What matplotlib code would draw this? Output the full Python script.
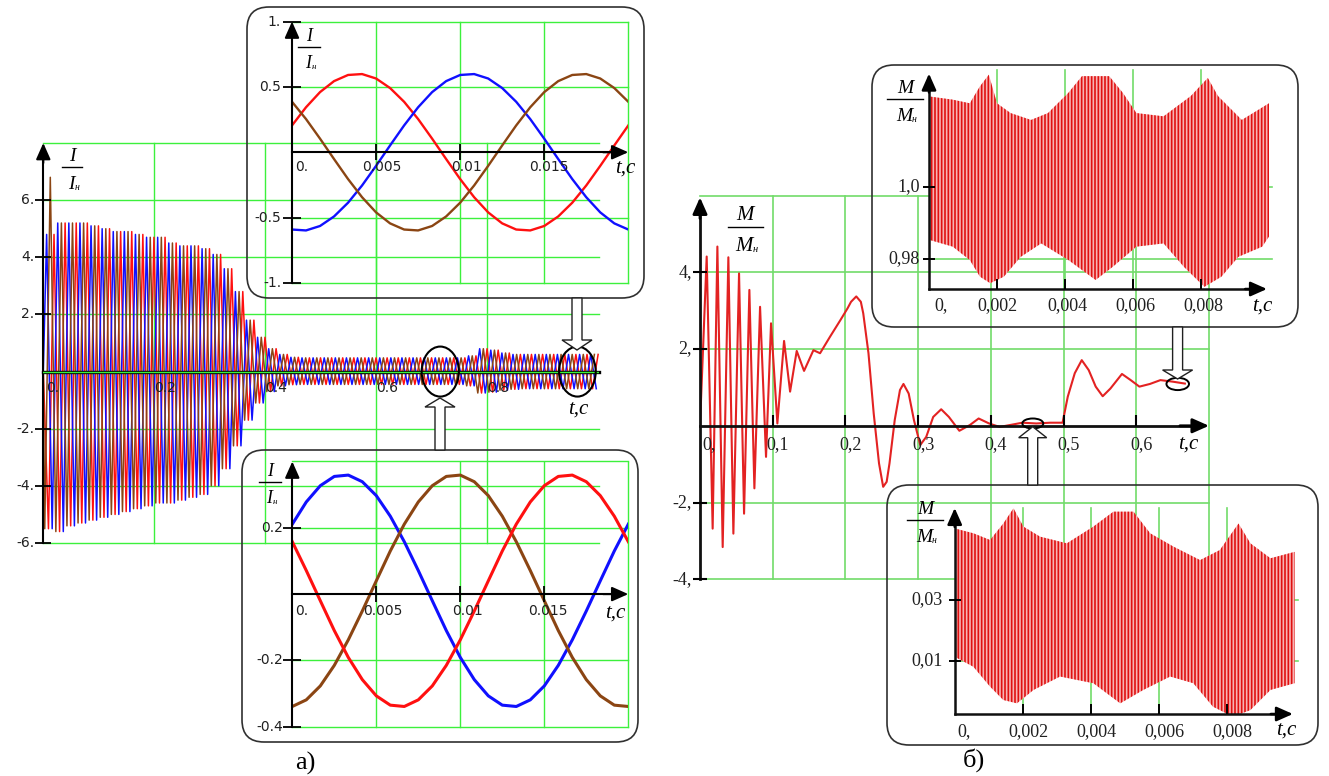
import numpy as np
import matplotlib
matplotlib.use("Agg")
import matplotlib.pyplot as plt
from matplotlib.patches import FancyBboxPatch, FancyArrow, Ellipse
from matplotlib.lines import Line2D

plt.rcParams["font.family"] = ["DejaVu Sans"]
plt.rcParams["hatch.linewidth"] = 1.2
plt.rcParams["hatch.color"] = "#e01010"

# ======================= DATA =======================
# (а) main plot: phase currents I/Iн (50 Hz); peak (+) and trough (-) of each 0.02 s cycle
cur_period = 0.02
cur_t_end = 1.0
cur_first_peak_t = {"red": 0.0193, "blue": 0.0060, "brown": 0.0126}
cur_first_peak_val = {"red": None, "blue": None, "brown": 6.8}
cur_upper = [4.8, 5.2, 5.2, 5.2, 5.1, 5.0, 4.9, 4.9, 4.8, 4.7,
             4.7, 4.5, 4.4, 4.4, 4.3, 4.1, 3.6, 2.8, 1.8, 1.2,
             0.8, 0.6, 0.5, 0.48, 0.48, 0.48, 0.48, 0.48, 0.48, 0.48,
             0.48, 0.48, 0.48, 0.48, 0.48, 0.48, 0.48, 0.48, 0.55, 0.8,
             0.75, 0.65, 0.6, 0.6, 0.6, 0.6, 0.6, 0.6, 0.6, 0.6]
cur_lower = [5.5, 5.6, 5.4, 5.3, 5.2, 5.1, 5.0, 4.9, 4.8, 4.7,
             4.6, 4.6, 4.5, 4.4, 4.3, 4.0, 3.4, 2.6, 1.7, 1.1,
             0.7, 0.5, 0.46, 0.45, 0.45, 0.45, 0.45, 0.45, 0.45, 0.45,
             0.45, 0.45, 0.45, 0.45, 0.45, 0.45, 0.45, 0.45, 0.5, 0.75,
             0.72, 0.65, 0.62, 0.6, 0.6, 0.6, 0.6, 0.6, 0.6, 0.6]
cur_xticks = [0, 0.2, 0.4, 0.6, 0.8]
cur_xlabels = ["0.", "0.2", "0.4", "0.6", "0.8"]
cur_yticks = [-6, -4, -2, 2, 4, 6]
cur_ylabels = ["-6.", "-4.", "-2.", "2.", "4.", "6."]

# (а) insets: one period 0..0.02 s, sampled every 1/24 period
ins_t = [0.0, 0.000833, 0.001667, 0.0025, 0.003333, 0.004167, 0.005, 0.005833,
         0.006667, 0.0075, 0.008333, 0.009167, 0.01, 0.010833, 0.011667, 0.0125,
         0.013333, 0.014167, 0.015, 0.015833, 0.016667, 0.0175, 0.018333, 0.019167, 0.02]
top_red = [0.205, 0.344, 0.460, 0.544, 0.591, 0.598, 0.564, 0.491, 0.386, 0.254,
           0.104, -0.052, -0.205, -0.344, -0.460, -0.544, -0.591, -0.598, -0.564,
           -0.491, -0.386, -0.254, -0.104, 0.052, 0.205]
top_blue = [-0.591, -0.598, -0.564, -0.491, -0.386, -0.254, -0.104, 0.052, 0.205,
            0.344, 0.460, 0.544, 0.591, 0.598, 0.564, 0.491, 0.386, 0.254, 0.104,
            -0.052, -0.205, -0.344, -0.460, -0.544, -0.591]
top_brown = [0.386, 0.254, 0.104, -0.052, -0.205, -0.344, -0.460, -0.544, -0.591,
             -0.598, -0.564, -0.491, -0.386, -0.254, -0.104, 0.052, 0.205, 0.344,
             0.460, 0.544, 0.591, 0.598, 0.564, 0.491, 0.386]
bot_blue = [0.211, 0.278, 0.327, 0.355, 0.359, 0.339, 0.297, 0.235, 0.158, 0.071,
            -0.020, -0.110, -0.191, -0.258, -0.307, -0.335, -0.339, -0.319, -0.277,
            -0.215, -0.138, -0.051, 0.040, 0.130, 0.211]
bot_brown = [-0.339, -0.319, -0.277, -0.215, -0.138, -0.051, 0.040, 0.130, 0.211,
             0.278, 0.327, 0.355, 0.359, 0.339, 0.297, 0.235, 0.158, 0.071, -0.020,
             -0.110, -0.191, -0.258, -0.307, -0.335, -0.339]
bot_red = [0.158, 0.071, -0.020, -0.110, -0.191, -0.258, -0.307, -0.335, -0.339,
           -0.319, -0.277, -0.215, -0.138, -0.051, 0.040, 0.130, 0.211, 0.278, 0.327,
           0.355, 0.359, 0.339, 0.297, 0.235, 0.158]
ins_xticks = [0, 0.005, 0.01, 0.015]
ins_xlabels = ["0.", "0.005", "0.01", "0.015"]
top_yticks = [-1, -0.5, 0.5, 1]
top_ylabels = ["-1.", "-0.5", "0.5", "1."]
bot_yticks = [-0.4, -0.2, 0.2]
bot_ylabels = ["-0.4", "-0.2", "0.2"]

# (б) main plot: torque M/Mн
trq_t = [0.0, 0.0092, 0.0174, 0.0239, 0.0312, 0.0390, 0.0459, 0.0537, 0.0606, 0.0679,
         0.0748, 0.0826, 0.0908, 0.0977, 0.1064, 0.1156, 0.1239, 0.1330, 0.1431, 0.1560,
         0.1651, 0.1788, 0.1933, 0.2029, 0.2077, 0.2149, 0.2212, 0.2245, 0.2317, 0.2389,
         0.2462, 0.2519, 0.2567, 0.2606, 0.2678, 0.2750, 0.2798, 0.2870, 0.2942, 0.3029,
         0.3111, 0.3207, 0.3317, 0.3423, 0.3567, 0.3712, 0.3832, 0.3976, 0.4120, 0.4264,
         0.4433, 0.4625, 0.4817, 0.4986, 0.5058, 0.5154, 0.5250, 0.5346, 0.5442, 0.5538,
         0.5644, 0.5803, 0.5923, 0.6043, 0.6188, 0.6332, 0.6500, 0.6668]
trq_m = [0.0, 4.41, -2.68, 4.67, -3.16, 4.39, -2.81, 3.97, -2.29, 3.54,
         -1.63, 3.10, -0.81, 2.67, 0.06, 2.21, 0.89, 1.95, 1.43, 1.97,
         1.89, 2.32, 2.76, 3.06, 3.23, 3.37, 3.23, 2.93, 1.89, 0.32,
         -0.98, -1.59, -1.46, -0.98, 0.15, 0.93, 1.09, 0.84, 0.15, -0.50,
         -0.29, 0.23, 0.43, 0.23, -0.13, 0.02, 0.19, 0.06, -0.03, 0.02,
         0.08, 0.06, 0.08, 0.08, 0.76, 1.37, 1.71, 1.45, 1.02, 0.77,
         0.97, 1.35, 1.19, 1.02, 1.09, 1.19, 1.15, 1.10]
trq_xticks = [0, 0.1, 0.2, 0.3, 0.4, 0.5, 0.6]
trq_xlabels = ["0,", "0,1", "0,2", "0,3", "0,4", "0,5", "0,6"]
trq_yticks = [-4, -2, 2, 4]
trq_ylabels = ["-4,", "-2,", "2,", "4,"]

# (б) insets: torque ripple band (upper / lower envelope)
rip_xticks = [0, 0.002, 0.004, 0.006, 0.008]
rip_xlabels = ["0,", "0,002", "0,004", "0,006", "0,008"]
ripA_up_t = [0.0, 0.0007, 0.0012, 0.0015, 0.00176, 0.0020, 0.0024, 0.0030, 0.0035, 0.0041,
             0.0045, 0.0053, 0.0057, 0.0061, 0.0069, 0.0077, 0.0082, 0.0085, 0.0092, 0.0100]
ripA_up = [1.0249, 1.0240, 1.0230, 1.0277, 1.0309, 1.0230, 1.0203, 1.0184, 1.0203, 1.0259,
           1.0305, 1.0305, 1.0259, 1.0203, 1.0194, 1.0250, 1.0300, 1.0250, 1.0184, 1.0230]
ripA_lo_t = [0.0, 0.0007, 0.0012, 0.0015, 0.0018, 0.0022, 0.0027, 0.0033, 0.0041, 0.0049,
             0.0054, 0.0061, 0.0069, 0.0075, 0.0081, 0.0086, 0.0091, 0.0098, 0.0100]
ripA_lo = [0.9853, 0.9834, 0.9797, 0.9751, 0.9733, 0.9751, 0.9806, 0.9843, 0.9797, 0.9742,
           0.9778, 0.9834, 0.9843, 0.9778, 0.9723, 0.9751, 0.9806, 0.9834, 0.9862]
ripA_yticks = [0.98, 1.0]
ripA_ylabels = ["0,98", "1,0"]
ripB_up_t = [0.0, 0.00055, 0.00104, 0.00143, 0.00173, 0.00202, 0.00251, 0.0033, 0.00408,
             0.00467, 0.00526, 0.00575, 0.00644, 0.00722, 0.0078, 0.00835, 0.0087, 0.00929, 0.0100]
ripB_up = [0.0535, 0.0519, 0.0497, 0.0551, 0.0601, 0.0541, 0.0508, 0.0486, 0.0541,
           0.0590, 0.0590, 0.0519, 0.0475, 0.0431, 0.0464, 0.0551, 0.0486, 0.0437, 0.0458]
ripB_lo_t = [0.0, 0.00055, 0.00104, 0.00143, 0.00183, 0.00232, 0.0031, 0.00408, 0.00487,
             0.00555, 0.00634, 0.00702, 0.0076, 0.00819, 0.0087, 0.00929, 0.0100]
ripB_lo = [0.0114, 0.0081, 0.0016, -0.0028, -0.0039, 0.0005, 0.0049, 0.0027, -0.0039,
           0.0005, 0.0049, 0.0027, -0.0050, -0.0083, -0.0061, 0.0005, 0.0027]
ripB_yticks = [0.01, 0.03]
ripB_ylabels = ["0,01", "0,03"]

# ======================= STYLE / LAYOUT =======================
W, H = 1329, 776
RED, BLUE, BROWN = "#ff1010", "#1010ff", "#8b4513"
G1 = "#3cf03c"      # bright grid (а)
G2 = "#72dc6a"      # grid (б)
TRQ = "#e32222"
TXT = "#202020"
SERIF = "Liberation Serif"
SANS = "DejaVu Sans"

fig = plt.figure(figsize=(W / 100, H / 100), dpi=100)
fig.patch.set_facecolor("white")


def fr(x0, y0, x1, y1):
    return [x0 / W, 1 - y1 / H, (x1 - x0) / W, (y1 - y0) / H]


def base_axes(px, xlim, ylim):
    ax = fig.add_axes(fr(*px))
    ax.set_xlim(*xlim)
    ax.set_ylim(*ylim)
    ax.set_axis_off()
    return ax


def grid(ax, xs, ys, color, lw=1.0):
    for x in xs:
        ax.axvline(x, color=color, lw=lw, zorder=0.5, clip_on=False)
    for y in ys:
        ax.axhline(y, color=color, lw=lw, zorder=0.5, clip_on=False)


def arrow_head(ax, tip, frm, lw=1.5, ms=22):
    ax.annotate("", xy=tip, xytext=frm,
                arrowprops=dict(arrowstyle="-|>,head_length=0.45,head_width=0.2",
                                color="black", lw=lw, shrinkA=0, shrinkB=0,
                                mutation_scale=ms),
                annotation_clip=False, zorder=5)


def xlabels(ax, ticks, labels, y, dxs, dy, has, size, family, style="normal"):
    for t, s, dx, ha in zip(ticks, labels, dxs, has):
        ax.annotate(s, xy=(t, y), xytext=(dx * 0.72, -dy * 0.72), textcoords="offset points",
                    ha=ha, va="top", fontsize=size, family=family, color=TXT,
                    annotation_clip=False, zorder=6)


def ylabels(ax, ticks, labels, x, dx, size, family):
    for t, s in zip(ticks, labels):
        ax.annotate(s, xy=(x, t), xytext=(-dx * 0.72, 0), textcoords="offset points",
                    ha="right", va="center", fontsize=size, family=family, color=TXT,
                    annotation_clip=False, zorder=6)


def frac(cx, cy, letter, size, bar_w, sub_dx):
    em = size / 0.72
    fig.text(cx / W, 1 - (cy - 0.33 * em) / H, letter, ha="center", va="baseline",
             fontsize=size, family=SERIF, style="italic", color="black")
    fig.add_artist(Line2D([(cx - bar_w / 2) / W, (cx + bar_w / 2) / W], [1 - cy / H] * 2,
                          transform=fig.transFigure, color="black", lw=1.0))
    fig.text((cx - 1) / W, 1 - (cy + 1.15 * em) / H, letter, ha="center", va="baseline",
             fontsize=size, family=SERIF, style="italic", color="black")
    fig.text((cx - 1 + sub_dx) / W, 1 - (cy + 1.2 * em) / H, "н", ha="left", va="baseline",
             fontsize=size * 0.5, family=SERIF, style="italic", color="black")


def tc(cx, cy, size=15):
    fig.text(cx / W, 1 - cy / H, "t,c", ha="center", va="center", fontsize=size,
             family=SERIF, style="italic", color="black")


def box(x0, y0, x1, y1, r=22):
    fig.add_artist(FancyBboxPatch((x0 / 100, (H - y1) / 100), (x1 - x0) / 100, (y1 - y0) / 100,
                                  boxstyle="round,pad=0,rounding_size=%f" % (r / 100),
                                  transform=fig.dpi_scale_trans, fill=False,
                                  ec="#303030", lw=1.2, zorder=3))


def hollow_arrow(x, y_from, y_to, hw=30, hl=10, w=10):
    fig.add_artist(FancyArrow(x / 100, (H - y_from) / 100, 0, -(y_to - y_from) / 100,
                              width=w / 100, head_width=hw / 100, head_length=hl / 100,
                              length_includes_head=True, transform=fig.dpi_scale_trans,
                              fc="white", ec="#202020", lw=1.0, zorder=4))


def ripple(ax, up_t, up, lo_t, lo):
    xs = np.r_[up_t, np.asarray(lo_t)[::-1]]
    ys = np.r_[up, np.asarray(lo)[::-1]]
    ax.fill(xs, ys, facecolor="#f7b4b4", edgecolor="#e01010", hatch="|||||", lw=0, zorder=2)


# ======================= (а) main =======================
ax1 = base_axes((43.3, 143, 598.5, 543), (0, cur_t_end), (-6, 8))
grid(ax1, cur_xticks[1:], cur_yticks + [8], G1)
cu = np.asarray(cur_upper)
cl = np.asarray(cur_lower)
half = cur_period / 2
for name, col in (("red", RED), ("blue", BLUE), ("brown", BROWN)):
    tp = cur_first_peak_t[name]
    t_ext = np.arange(tp % half, cur_t_end, half)
    n = np.rint((t_ext - tp) / half).astype(int)
    cyc = np.minimum((t_ext // cur_period).astype(int), len(cu) - 1)
    v = np.where(n % 2 == 0, cu[cyc], -cl[cyc])
    if cur_first_peak_val[name] is not None:
        v[np.argmax(n == 0)] = cur_first_peak_val[name]
    ax1.plot(np.r_[0, t_ext], np.r_[0, v], color=col, lw=1.1, zorder=2)
ax1.plot([0, cur_t_end], [0, 0], color="black", lw=2.4, zorder=3, clip_on=False)
ax1.axhline(0, color=G1, lw=1.0, zorder=3.5)
ax1.plot([0, 0], [-6, 7.6], color="black", lw=1.5, zorder=3, clip_on=False)
arrow_head(ax1, (0, 8), (0, 7.3))
ax1.plot(np.zeros(len(cur_yticks)), cur_yticks, ls="none", marker="_", ms=12, mew=1.3,
         color="black", clip_on=False, zorder=3)
ylabels(ax1, cur_yticks, cur_ylabels, 0, 9, 10, SANS)
xlabels(ax1, cur_xticks, cur_xlabels, 0, [3, 0, 0, 0, 0], 9, ["left"] * 5, 10, SANS)
ax1.add_patch(Ellipse((0.715, 0.0), 0.067, 1.75, fill=False, ec="black", lw=1.5, zorder=5,
                      clip_on=False))
ax1.add_patch(Ellipse((0.962, 0.0), 0.066, 1.75, fill=False, ec="black", lw=1.5, zorder=5,
                      clip_on=False))
frac(72, 167, "I", 14, 20, 4)
tc(578, 409)

# ======================= (а) top inset =======================
box(247, 7, 644, 298)
ax2 = base_axes((292, 21.5, 628.3, 283), (0, 0.02), (-1, 1))
grid(ax2, [0.005, 0.01, 0.015, 0.02], top_yticks, G1)
for ys, col in ((top_red, RED), (top_blue, BLUE), (top_brown, BROWN)):
    ax2.plot(ins_t, ys, color=col, lw=1.7, zorder=2)
ax2.plot([0, 0.0195], [0, 0], color="black", lw=1.5, zorder=3, clip_on=False)
ax2.plot([0, 0], [-1, 0.95], color="black", lw=1.5, zorder=3, clip_on=False)
arrow_head(ax2, (0, 1.0), (0, 0.9))
arrow_head(ax2, (0.02, 0), (0.0185, 0))
ax2.plot(np.zeros(4), top_yticks, ls="none", marker="_", ms=13, mew=1.3, color="black",
         clip_on=False, zorder=3)
ax2.plot(ins_xticks[1:], np.zeros(3), ls="none", marker="|", ms=12, mew=1.3, color="black",
         clip_on=False, zorder=3)
ylabels(ax2, top_yticks, top_ylabels, 0, 11, 10, SANS)
xlabels(ax2, ins_xticks, ins_xlabels, 0, [3, 6, 6, 5], 8, ["left", "center", "center", "center"],
        10, SANS)
frac(309, 47, "I", 13, 22, 4)
tc(625, 168)

# ======================= (а) bottom inset =======================
box(242, 450, 638, 742)
ax3 = base_axes((292.3, 461.5, 628.3, 726.7), (0, 0.02), (-0.4, 0.4))
grid(ax3, [0.005, 0.01, 0.015, 0.02], bot_yticks + [0.4], G1)
for ys, col in ((bot_blue, BLUE), (bot_brown, BROWN), (bot_red, RED)):
    ax3.plot(ins_t, ys, color=col, lw=2.2, zorder=2)
ax3.plot([0, 0.0195], [0, 0], color="black", lw=1.5, zorder=3, clip_on=False)
ax3.plot([0, 0], [-0.4, 0.37], color="black", lw=1.5, zorder=3, clip_on=False)
arrow_head(ax3, (0, 0.4), (0, 0.35))
arrow_head(ax3, (0.02, 0), (0.0185, 0))
ax3.plot(np.zeros(3), bot_yticks, ls="none", marker="_", ms=13, mew=1.3, color="black",
         clip_on=False, zorder=3)
ax3.plot(ins_xticks[1:], np.zeros(3), ls="none", marker="|", ms=12, mew=1.3, color="black",
         clip_on=False, zorder=3)
ylabels(ax3, bot_yticks, bot_ylabels, 0, 9, 10, SANS)
xlabels(ax3, ins_xticks, ins_xlabels, 0, [3, 7, 7, 4], 10, ["left", "center", "center", "center"],
        10, SANS)
frac(270, 482, "I", 13, 22, 4)
tc(615, 613)

hollow_arrow(577, 298, 350, hw=30, hl=10, w=10)
hollow_arrow(440, 450, 398, hw=30, hl=9, w=10)

# ======================= (б) main =======================
ax4 = base_axes((700, 195.5, 1209, 579.3), (0, 0.7), (-4, 6))
grid(ax4, [0.1, 0.2, 0.3, 0.4, 0.5, 0.6, 0.7], trq_yticks + [6], G2, 1.2)
ax4.plot(trq_t, trq_m, color=TRQ, lw=1.5, zorder=2)
ax4.plot([0, 0.68], [0, 0], color="#101010", lw=2.0, zorder=3, clip_on=False)
ax4.plot([0, 0], [-4, 5.6], color="#101010", lw=2.0, zorder=3, clip_on=False)
arrow_head(ax4, (0, 5.95), (0, 5.4), lw=2.0)
arrow_head(ax4, (0.7, 0), (0.66, 0), lw=2.0)
ax4.plot(np.zeros(4), trq_yticks, ls="none", marker="_", ms=10, mew=1.5, color="black",
         clip_on=False, zorder=3)
ax4.plot(trq_xticks[1:], np.zeros(6), ls="none", marker=2, ms=8, mew=1.5, color="black",
         clip_on=False, zorder=3)
ylabels(ax4, trq_yticks, trq_ylabels, 0, 8, 13, SERIF)
xlabels(ax4, trq_xticks, trq_xlabels, 0, [2] + [5] * 6, 10, ["left"] + ["center"] * 6, 13, SERIF)
ax4.add_patch(Ellipse((0.4577, 0.06), 0.0288, 0.26, fill=False, ec="black", lw=1.4, zorder=5,
                      clip_on=False))
ax4.add_patch(Ellipse((0.657, 1.09), 0.031, 0.32, fill=False, ec="black", lw=1.4, zorder=5,
                      clip_on=False))
frac(745, 227, "M", 15, 35, 9)
tc(1188, 444)

# ======================= (б) top inset =======================
box(872, 65, 1298, 327)
ax5 = base_axes((929, 70, 1272.4, 289), (0, 0.0101), (0.9717, 1.0322))
grid(ax5, rip_xticks[1:], ripA_yticks, G2, 1.2)
ripple(ax5, ripA_up_t, ripA_up, ripA_lo_t, ripA_lo)
ax5.plot([0, 0.0097], [0.9717, 0.9717], color="#101010", lw=1.8, zorder=3, clip_on=False)
ax5.plot([0, 0], [0.9717, 1.028], color="#101010", lw=1.8, zorder=3, clip_on=False)
arrow_head(ax5, (0, 1.0312), (0, 1.026), lw=1.8)
arrow_head(ax5, (0.00994, 0.9717), (0.0093, 0.9717), lw=1.8)
ax5.plot(np.zeros(2), ripA_yticks, ls="none", marker="_", ms=8, mew=1.4, color="black",
         clip_on=False, zorder=3)
ax5.plot(rip_xticks[1:], np.full(4, 0.9717), ls="none", marker=2, ms=7, mew=1.4, color="black",
         clip_on=False, zorder=3)
ylabels(ax5, ripA_yticks, ripA_ylabels, 0, 9, 13, SERIF)
xlabels(ax5, rip_xticks, rip_xlabels, 0.9717, [5, 0, 2, 2, 2], 8,
        ["left"] + ["center"] * 4, 13, SERIF)
frac(905, 99, "M", 14, 35, 8)
tc(1262, 306)

# ======================= (б) bottom inset =======================
box(887, 485, 1318, 745)
ax6 = base_axes((954.7, 508, 1298, 714), (0, 0.0101), (-0.0074, 0.0602))
grid(ax6, rip_xticks[1:], ripB_yticks, G2, 1.2)
ripple(ax6, ripB_up_t, ripB_up, ripB_lo_t, ripB_lo)
ax6.plot([0, 0.0097], [-0.0074, -0.0074], color="#101010", lw=1.8, zorder=3, clip_on=False)
ax6.plot([0, 0], [-0.0074, 0.057], color="#101010", lw=1.8, zorder=3, clip_on=False)
arrow_head(ax6, (0, 0.0602), (0, 0.054), lw=1.8)
arrow_head(ax6, (0.00995, -0.0074), (0.0093, -0.0074), lw=1.8)
ax6.plot(np.zeros(2), ripB_yticks, ls="none", marker="_", ms=8, mew=1.4, color="black",
         clip_on=False, zorder=3)
ax6.plot(rip_xticks[1:], np.full(4, -0.0074), ls="none", marker=2, ms=7, mew=1.4, color="black",
         clip_on=False, zorder=3)
ylabels(ax6, ripB_yticks, ripB_ylabels, 0, 12, 13, SERIF)
xlabels(ax6, rip_xticks, rip_xlabels, -0.0074, [3, 6, 6, 6, 6], 9,
        ["left"] + ["center"] * 4, 13, SERIF)
frac(925, 520, "M", 14, 36, 8)
tc(1286, 730)

hollow_arrow(1177.6, 327, 379, hw=30, hl=9, w=10)
hollow_arrow(1032.7, 485, 426.7, hw=28, hl=11, w=10)

# panel captions
fig.text(305 / W, 1 - 763 / H, "а)", ha="center", va="center", fontsize=19, family=SERIF)
fig.text(974 / W, 1 - 760 / H, "б)", ha="center", va="center", fontsize=19, family=SERIF)

fig.savefig("out.png", dpi=100, facecolor="white")
